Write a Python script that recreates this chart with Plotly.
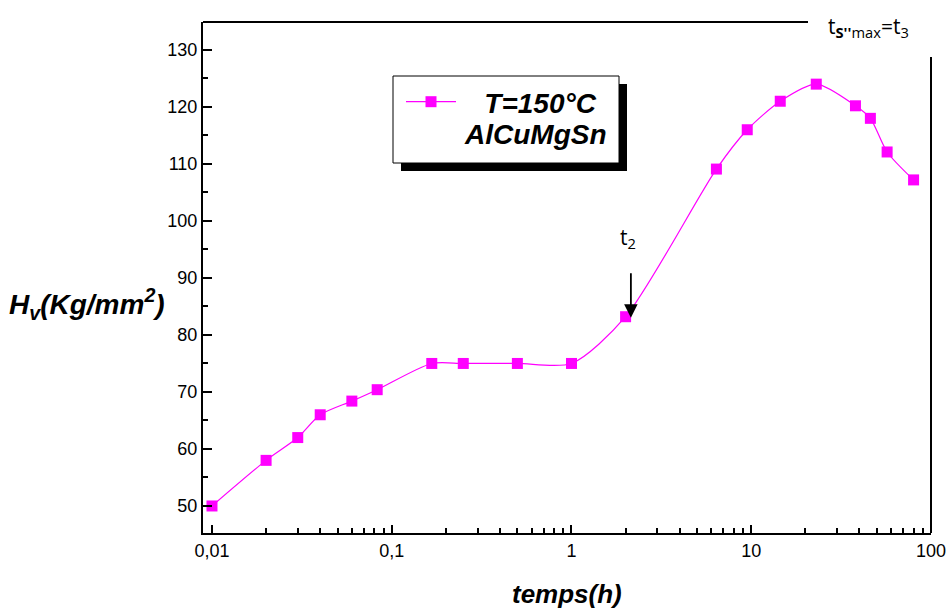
import numpy as np
import plotly.graph_objects as go

# ---- data ----
temps_h = [0.01, 0.02, 0.03, 0.04, 0.06, 0.083, 0.167, 0.25, 0.5, 1.0, 2.0,
           6.4, 9.5, 14.5, 23.0, 38.0, 46.0, 57.0, 80.0]
hv = [50, 58, 62, 66, 68.4, 70.4, 75, 75, 75, 75, 83.2,
      109.1, 116, 121, 124, 120.2, 118, 112.1, 107.2]

x_tickvals = [0.01, 0.1, 1, 10, 100]
x_ticktext = ["0,01", "0,1", "1", "10", "100"]
y_tickvals = [50, 60, 70, 80, 90, 100, 110, 120, 130]

series_name = "T=150°C"
alloy = "AlCuMgSn"
t2_time, t2_hv = 2.14, 83.0

# ---- layout geometry (pixels) ----
W, H = 949, 609
L, R, T, B = 203, 18, 22, 76
pw, ph = W - L - R, H - T - B


def px(x):
    return (x - L) / pw


def py(y):
    return (H - B - y) / ph


magenta = "#FF00FF"

fig = go.Figure()
fig.add_trace(go.Scatter(
    x=temps_h, y=hv, mode="lines+markers",
    name="&nbsp;&nbsp;&nbsp;<b><i>" + series_name + "</i></b>",
    line=dict(color=magenta, width=1.2, shape="spline", smoothing=0.75),
    marker=dict(symbol="square", size=11, color=magenta),
))

minor_x = [m * 10 ** k for k in range(-2, 2) for m in range(2, 10)]

fig.update_layout(
    width=W, height=H,
    margin=dict(l=L, r=R, t=T, b=B, autoexpand=False),
    paper_bgcolor="white", plot_bgcolor="white",
    font=dict(family="Liberation Sans, Arial, sans-serif", color="black"),
    showlegend=True,
    legend=dict(x=px(401), y=py(77), xanchor="left", yanchor="top",
                bgcolor="rgba(0,0,0,0)", borderwidth=0,
                font=dict(size=28, family="Liberation Sans, Arial", color="black"),
                itemwidth=50),
    xaxis=dict(
        type="log", range=[-2.05, 2.0], automargin=False,
        tickvals=x_tickvals, ticktext=x_ticktext,
        ticks="inside", ticklen=8, tickwidth=1.5, tickcolor="black",
        showline=True, linecolor="black", linewidth=2, mirror=False,
        showgrid=False, zeroline=False,
        tickfont=dict(size=18, family="Liberation Sans, Arial"),
        minor=dict(tickvals=minor_x, ticks="inside", ticklen=5,
                   tickwidth=1.5, tickcolor="black", showgrid=False),
    ),
    yaxis=dict(
        range=[45.26, 134.9], automargin=False,
        tickvals=y_tickvals,
        ticks="inside", ticklen=9, tickwidth=1.5, tickcolor="black",
        showline=True, linecolor="black", linewidth=2, mirror=False,
        showgrid=False, zeroline=False,
        tickfont=dict(size=18, family="Liberation Sans, Arial"),
        minor=dict(dtick=5, ticks="inside", ticklen=5, tickwidth=1.5,
                   tickcolor="black", showgrid=False),
    ),
)

# partial top and right frame lines
fig.add_shape(type="line", xref="paper", yref="paper", x0=0, x1=px(808),
              y0=1, y1=1, line=dict(color="black", width=2))
fig.add_shape(type="line", xref="paper", yref="paper", x0=1, x1=1,
              y0=0, y1=py(57), line=dict(color="black", width=2))

# legend box with shadow
fig.add_shape(type="rect", xref="paper", yref="paper",
              x0=px(401), x1=px(627), y0=py(171), y1=py(84),
              fillcolor="black", line=dict(width=0), layer="above")
fig.add_shape(type="rect", xref="paper", yref="paper",
              x0=px(393), x1=px(619), y0=py(163), y1=py(76),
              fillcolor="white", line=dict(color="black", width=1), layer="above")

annotations = [
    dict(xref="paper", yref="paper", x=px(609), y=py(134), xanchor="right",
         yanchor="middle", showarrow=False,
         text="<b><i>" + alloy + "</i></b>",
         font=dict(size=28, family="Liberation Sans, Arial", color="black")),
    dict(xref="paper", yref="paper", x=px(167), y=py(304), xanchor="right",
         yanchor="middle", showarrow=False,
         text="<b><i>H<sub>v</sub>(Kg/mm<sup>2</sup>)</i></b>",
         font=dict(size=28, family="Liberation Sans, Arial", color="black")),
    dict(xref="paper", yref="paper", x=px(567), y=py(594), xanchor="center",
         yanchor="middle", showarrow=False,
         text="<b><i>temps(h)</i></b>",
         font=dict(size=26, family="Liberation Sans, Arial", color="black")),
    dict(xref="paper", yref="paper", x=px(826), y=py(27), xanchor="left",
         yanchor="middle", showarrow=False,
         text="t<sub><b>S''</b>max</sub>=t<sub>3</sub>",
         font=dict(size=21, family="Open Sans, Noto Sans", color="black")),
    # arrow to t2
    dict(x=np.log10(t2_time), y=t2_hv, xref="x", yref="y", text="",
         showarrow=True, ax=0, ay=-46, axref="pixel", ayref="pixel",
         arrowhead=2, arrowsize=1.5, arrowwidth=1.8, arrowcolor="black",
         standoff=0),
    dict(x=np.log10(t2_time), y=t2_hv, xref="x", yref="y",
         text="t<sub>2</sub>", showarrow=False, xshift=-3, yshift=80,
         font=dict(size=21, family="Open Sans, Noto Sans", color="black")),
]
fig.update_layout(annotations=annotations)

fig.write_html("out.html")
